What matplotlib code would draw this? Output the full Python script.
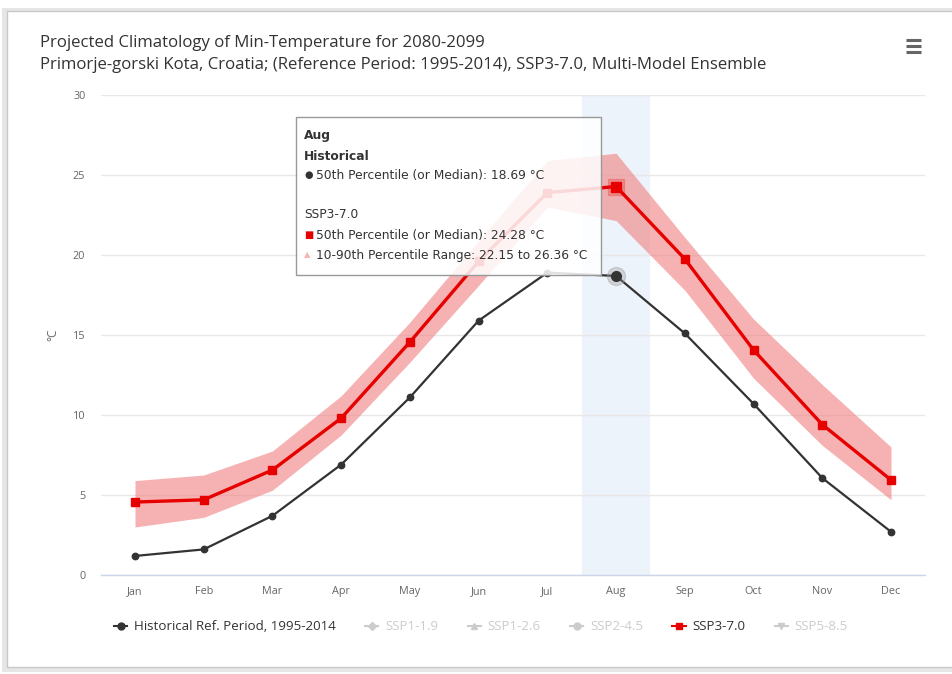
import matplotlib
matplotlib.use("Agg")
import matplotlib.pyplot as plt
from matplotlib.lines import Line2D
from matplotlib.patches import Rectangle
import numpy as np

# ---- data ----
months = ["Jan", "Feb", "Mar", "Apr", "May", "Jun", "Jul", "Aug", "Sep", "Oct", "Nov", "Dec"]
historical = [1.19, 1.60, 3.70, 6.90, 11.10, 15.90, 18.90, 18.69, 15.10, 10.70, 6.06, 2.70]
ssp370_median = [4.56, 4.70, 6.56, 9.80, 14.56, 19.60, 23.90, 24.28, 19.75, 14.06, 9.40, 5.94]
ssp370_p10 = [3.00, 3.60, 5.30, 8.75, 13.30, 18.10, 23.00, 22.15, 17.80, 12.30, 8.10, 4.70]
ssp370_p90 = [5.90, 6.25, 7.75, 11.20, 15.80, 20.90, 25.90, 26.36, 21.10, 16.00, 11.90, 8.00]
yticks = [0, 5, 10, 15, 20, 25, 30]
legend_labels = ["Historical Ref. Period, 1995-2014", "SSP1-1.9", "SSP1-2.6",
                 "SSP2-4.5", "SSP3-7.0", "SSP5-8.5"]
hover_month = "Aug"

W, H = 952, 674
RED = "#e60000"
HIST = "#333333"
OFF = "#cccccc"


def fpx(x, y):
    """Pixel position (from top-left) to figure fraction."""
    return x / W, 1 - y / H


fig = plt.figure(figsize=(W / 100, H / 100), dpi=100)
fig.patch.set_facecolor("white")

# card outline with soft shadow
fig.add_artist(Rectangle(fpx(2, 672), 960 / W, 664 / H, transform=fig.transFigure,
                         facecolor="#e6e6e6", edgecolor="none", zorder=-3))
fig.add_artist(Rectangle(fpx(7, 667), 960 / W, 656 / H, transform=fig.transFigure,
                         facecolor="white", edgecolor="#c8c8c8", linewidth=1.0, zorder=-2))

x0, y0 = fpx(100.6, 575)
x1, y1 = fpx(925.4, 95)
ax = fig.add_axes([x0, y0, x1 - x0, y1 - y0])
ax.set_facecolor("none")

x = np.arange(len(months))
hi = months.index(hover_month)

# hovered category highlight
ax.axvspan(hi - 0.5, hi + 0.5, color="#e8eff9", alpha=0.75, zorder=0, linewidth=0)

# percentile band and lines
ax.fill_between(x, ssp370_p10, ssp370_p90, color="#f08080", alpha=0.6, linewidth=0, zorder=2)
ax.plot(x, historical, color=HIST, linewidth=1.6, marker="o", markersize=4.6, zorder=3)
ax.plot(x, ssp370_median, color=RED, linewidth=2.4, marker="s", markersize=5.5, zorder=4)

# hover halos
ax.plot([hi], [historical[hi]], marker="o", markersize=13, color="#999999", alpha=0.35,
        linestyle="none", zorder=3.5)
ax.plot([hi], [historical[hi]], marker="o", markersize=7, color=HIST, linestyle="none", zorder=3.6)
ax.plot([hi], [ssp370_median[hi]], marker="s", markersize=11, color=RED, alpha=0.2,
        linestyle="none", zorder=4.5)
ax.plot([hi], [ssp370_median[hi]], marker="s", markersize=7, color=RED, linestyle="none", zorder=4.6)

ax.set_xlim(-0.5, len(months) - 0.5)
ax.set_ylim(0, 30)
ax.set_xticks(x)
ax.set_xticklabels(months)
ax.set_yticks(yticks)
ax.grid(axis="y", color="#e8e8e8", linewidth=1.0, zorder=1)
ax.set_axisbelow(True)
for side in ["top", "right", "left"]:
    ax.spines[side].set_visible(False)
ax.spines["bottom"].set_color("#ccd6eb")
ax.spines["bottom"].set_linewidth(1.0)
ax.tick_params(axis="both", length=0, colors="#666666", labelsize=7.8)
ax.tick_params(axis="x", pad=8)
ax.tick_params(axis="y", pad=11)
for lab in ax.get_xticklabels() + ax.get_yticklabels():
    lab.set_fontfamily("Open Sans")
ax.set_ylabel("°C", fontsize=8.5, color="#666666", family="Open Sans")
ax.yaxis.set_label_coords((59 - 100.6) / 824.8, 0.5)

# titles
fig.text(*fpx(40, 43), "Projected Climatology of Min-Temperature for 2080-2099",
         fontsize=12.1, family="Open Sans", color="#333333", va="center", ha="left")
fig.text(*fpx(40, 65), "Primorje-gorski Kota, Croatia; (Reference Period: 1995-2014), SSP3-7.0, Multi-Model Ensemble",
         fontsize=12.1, family="Open Sans", color="#333333", va="center", ha="left")

# context menu icon
for yy in (40, 46, 52):
    fig.add_artist(Line2D([906 / W, 921 / W], [1 - yy / H] * 2, transform=fig.transFigure,
                          color="#666666", linewidth=2.2, solid_capstyle="butt"))

# tooltip
tx0, ty0 = fpx(296, 275)
tx1, ty1 = fpx(601, 117)
fig.add_artist(Rectangle((tx0, ty0), tx1 - tx0, ty1 - ty0, transform=fig.transFigure,
                         facecolor="white", alpha=0.85, edgecolor="none", zorder=10))
fig.add_artist(Rectangle((tx0, ty0), tx1 - tx0, ty1 - ty0, transform=fig.transFigure,
                         facecolor="none", edgecolor="#999999", linewidth=1.0, zorder=11))
tkw = dict(fontsize=8.8, family="DejaVu Sans", color="#333333", va="center", ha="left", zorder=12)
fig.text(*fpx(304, 135), hover_month, fontweight="semibold", **tkw)
fig.text(*fpx(304, 156), "Historical", fontweight="semibold", **tkw)
fig.text(*fpx(304, 175), "\u25cf", **dict(tkw, color=HIST, fontsize=7))
fig.text(*fpx(316, 175), f"50th Percentile (or Median): {historical[hi]:.2f} °C", **tkw)
fig.text(*fpx(304, 214), "SSP3-7.0", **tkw)
fig.text(*fpx(304, 235), "\u25a0", **dict(tkw, color=RED, fontsize=7))
fig.text(*fpx(316, 235), f"50th Percentile (or Median): {ssp370_median[hi]:.2f} °C", **tkw)
fig.text(*fpx(304, 255), "\u25b2", **dict(tkw, color="#f5b5b5", fontsize=6))
fig.text(*fpx(316, 255),
         f"10-90th Percentile Range: {ssp370_p10[hi]:.2f} to {ssp370_p90[hi]:.2f} °C", **tkw)

# legend
handles = [
    Line2D([], [], color=HIST, marker="o", markersize=5, linewidth=1.5),
    Line2D([], [], color=OFF, marker="D", markersize=4, linewidth=1.5),
    Line2D([], [], color=OFF, marker="^", markersize=5, linewidth=1.5),
    Line2D([], [], color=OFF, marker="o", markersize=5, linewidth=1.5),
    Line2D([], [], color=RED, marker="s", markersize=5, linewidth=1.5),
    Line2D([], [], color=OFF, marker="v", markersize=5, linewidth=1.5),
]
leg = fig.legend(handles, legend_labels, loc="center", bbox_to_anchor=fpx(481, 627),
                 ncol=6, frameon=False, handlelength=1.0, handletextpad=0.5,
                 columnspacing=2.2, prop={"family": "Open Sans", "size": 9.6})
for i, t in enumerate(leg.get_texts()):
    t.set_color("#333333" if i in (0, 4) else OFF)

fig.savefig("out.png", dpi=100)
